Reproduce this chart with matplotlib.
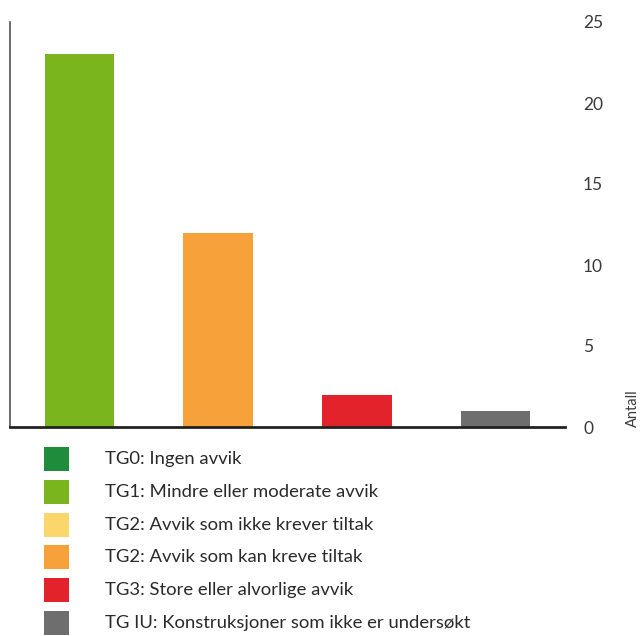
import matplotlib.pyplot as plt
import numpy as np
from matplotlib.patches import Rectangle

plt.rcParams["font.family"] = ["Lato", "DejaVu Sans"]

bar_labels = ["TG1", "TG2 kan", "TG3", "TG IU"]
bar_values = [23, 12, 2, 1]
bar_colors = ["#7ab51d", "#f7a13b", "#e3232b", "#6e6e6e"]

legend_labels = [
    "TG0: Ingen avvik",
    "TG1: Mindre eller moderate avvik",
    "TG2: Avvik som ikke krever tiltak",
    "TG2: Avvik som kan kreve tiltak",
    "TG3: Store eller alvorlige avvik",
    "TG IU: Konstruksjoner som ikke er undersøkt",
]
legend_colors = ["#1f8c3b", "#7ab51d", "#fbd66a", "#f7a13b", "#e3232b", "#6e6e6e"]

W, H = 643, 636
fig = plt.figure(figsize=(W / 100, H / 100), dpi=100)
ax = fig.add_axes([10 / W, 1 - 427 / H, 555 / W, 405 / H])

x = np.arange(len(bar_values))
ax.bar(x, bar_values, width=0.5, color=bar_colors)
ax.set_xlim(-0.5, len(bar_values) - 0.5)
ax.set_ylim(0, 25)
ax.set_yticks([0, 5, 10, 15, 20, 25])
ax.set_xticks([])
ax.yaxis.tick_right()
ax.tick_params(axis="y", length=0, pad=13, labelsize=12.5, labelcolor="#3a3a3a")
for side in ["top", "right"]:
    ax.spines[side].set_visible(False)
ax.spines["left"].set_color("#555555")
ax.spines["left"].set_linewidth(1.2)
ax.spines["bottom"].set_color("#222222")
ax.spines["bottom"].set_linewidth(2)

fig.text(633 / W, 1 - 427 / H, "Antall", rotation=90, ha="center", va="bottom",
         fontsize=10.5, color="#3a3a3a")

# legend drawn by hand
for i, (lab, col) in enumerate(zip(legend_labels, legend_colors)):
    yc = 459 + i * 32.8
    fig.add_artist(Rectangle((44 / W, 1 - (yc + 12) / H), 25 / W, 24 / H,
                             transform=fig.transFigure, facecolor=col, edgecolor="none"))
    fig.text(105 / W, 1 - yc / H, lab, ha="left", va="center", fontsize=13.3, color="#2a2a2a")

fig.savefig("out.png", dpi=100)
